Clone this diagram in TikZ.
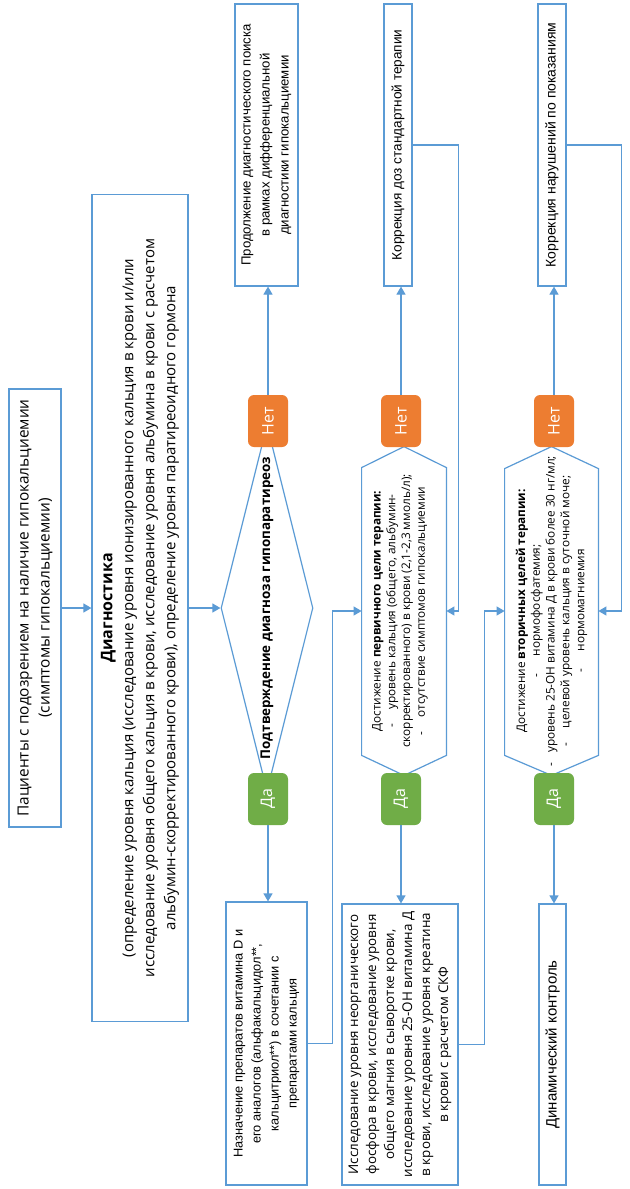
\documentclass[tikz,border=0pt]{standalone}
\usepackage{fontspec}
\setmainfont{Open Sans}
\newfontfamily\arialfont{Liberation Sans}
\usetikzlibrary{calc,arrows.meta,shapes.geometric}
\definecolor{boxblue}{HTML}{5B9BD5}
\definecolor{noorange}{HTML}{ED7D31}
\definecolor{yesgreen}{HTML}{70AD47}
\tikzset{
>={Triangle[width=4.5pt,length=4pt]},
  box/.style={
    rectangle,
    draw=boxblue, line width=0.6pt,
    rotate=90,
    align=center,
    inner sep=2pt,
    font=\fontsize{7.7}{10.5}\selectfont},
  abox/.style={box, font=\arialfont\fontsize{6.6}{9.5}\selectfont},
  line/.style={draw=boxblue, line width=0.6pt},
  arrow/.style={line, ->},
  answer/.style={
    rectangle,
    rounded corners=3pt,
    rotate=90,
    text=white,
    minimum width=26pt, minimum height=20pt,
    inner sep=0pt,
    font=\fontsize{8}{9}\selectfont},
  nobox/.style={answer, fill=noorange},
  yesbox/.style={answer, fill=yesgreen},
  hexholder/.style={minimum height=164pt, inner sep=0pt},
  goaltext/.style={rotate=90, align=center, inner sep=0pt,
    font=\fontsize{5.9}{7.4}\selectfont},
}
\begin{document}
\begin{tikzpicture}[x=0.5pt, y=-0.5pt]
  \useasboundingbox[fill=white] (0,0) rectangle (630,1189);

  % start and diagnostics
  \node[box, minimum width=219pt, minimum height=26pt] (patients) at (35,608)
    {Пациенты с подозрением на наличие гипокальциемии\\(симптомы гипокальциемии)};
  \node[box, font=\fontsize{7.5}{10.5}\selectfont, minimum width=413.5pt, minimum height=48pt] (diagn) at (140,608)
    {{\bfseries\fontsize{8}{10.5}\selectfont Диагностика}\\
     (определение уровня кальция (исследование уровня ионизированного кальция в крови и/или\\
     исследование уровня общего кальция в крови, исследование уровня альбумина в крови с расчетом\\
     альбумин-скорректированного крови), определение уровня паратиреоидного гормона};

  % confirmation of the diagnosis
  \node[diamond, draw=boxblue, line width=0.6pt, inner sep=0pt,
    minimum width=46pt, minimum height=183pt] (confirm) at (267,608) {};
  \node[rotate=90, font=\bfseries\fontsize{6.7}{8}\selectfont] (confirmlbl) at (confirm.center)
    {Подтверждение диагноза гипопаратиреоз};
  \node[nobox] (no1) at (268,421) {Нет};
  \node[yesbox] (yes1) at (268,799) {Да};
  \node[abox, minimum width=141pt, minimum height=31.5pt] (search) at (266.5,145)
    {Продолжение диагностического поиска\\в рамках дифференциальной\\диагностики гипокальциемии};
  \node[abox, font=\arialfont\fontsize{6.4}{9}\selectfont, minimum width=141.5pt, minimum height=40.5pt] (assign) at (266.5,1043.5)
    {Назначение препаратов витамина D и\\его аналогов (альфакальцидол**,\\кальцитриол**) в сочетании с\\препаратами кальция};

  % primary goal
  \node[hexholder, minimum width=42pt] (goal1) at (404,611) {};
  \draw[line] ($(goal1.north west)+(0,21)$) -- (goal1.north) -- ($(goal1.north east)+(0,21)$)
    -- ($(goal1.south east)+(0,-20)$) -- (goal1.south) -- ($(goal1.south west)+(0,-20)$) -- cycle;
  \node[goaltext] (goal1lbl) at ($(goal1.center)+(-4,0)$)
    {Достижение \textbf{первичного цели терапии:}\\
     -\hspace{1.2em}уровень кальция (общего, альбумин-\\
     скорректированного) в крови (2,1-2,3 ммоль/л);\\
     -\hspace{1.2em}отсутствие симптомов гипокальциемии};
  \node[nobox] (no2) at (401,421) {Нет};
  \node[yesbox] (yes2) at (401,799) {Да};
  \node[abox, font=\arialfont\fontsize{6.8}{9}\selectfont, minimum width=141pt, minimum height=14pt] (dose) at (398,145)
    {Коррекция доз стандартной терапии};
  \node[box, font=\fontsize{6.7}{9}\selectfont, minimum width=140.5pt, minimum height=58pt] (exam) at (400,1044.5)
    {Исследование уровня неорганического\\фосфора в крови, исследование уровня\\общего магния в сыворотке крови,\\
     исследование уровня 25-ОН витамина Д\\в крови, исследование уровня креатина\\в крови с расчетом СКФ};

  % secondary goals
  \node[hexholder, minimum width=46.5pt] (goal2) at (551.5,611) {};
  \draw[line] ($(goal2.north west)+(0,22)$) -- (goal2.north) -- ($(goal2.north east)+(0,22)$)
    -- ($(goal2.south east)+(0,-20)$) -- (goal2.south) -- ($(goal2.south west)+(0,-20)$) -- cycle;
  \node[goaltext] (goal2lbl) at (goal2.center)
    {Достижение \textbf{вторичных целей терапии:}\\
     -\hspace{1.5em}нормофосфатемия;\\
     -\hspace{0.8em}уровень 25-ОН витамина Д в крови более 30 нг/мл;\\
     -\hspace{1.2em}целевой уровень кальция в суточной моче;\\
     -\hspace{1.5em}нормомагниемия};
  \node[nobox] (no3) at (554,421) {Нет};
  \node[yesbox] (yes3) at (554,799) {Да};
  \node[abox, font=\arialfont\fontsize{7}{9}\selectfont, minimum width=141pt, minimum height=14pt] (fix) at (552,145)
    {Коррекция нарушений по показаниям};
  \node[abox, font=\arialfont\fontsize{7.5}{9}\selectfont, minimum width=140.5pt, minimum height=13.5pt] (control) at (552.5,1044.5)
    {Динамический контроль};

  % bends of the feedback lines
  \coordinate (c1) at ($(goal1.west)+(-29,0)$);
  \coordinate (c2) at ($(goal1.east)+(12,0)$);
  \coordinate (c3) at ($(goal2.west)+(-20,0)$);
  \coordinate (c4) at ($(goal2.east)+(23,0)$);

  % connectors
  \draw[arrow] (patients.south) -- (diagn.north);
  \draw[arrow] (diagn.south) -- (confirm.west);
  \draw[arrow] (no1.east) -- (no1.east |- search.west);
  \draw[arrow] (yes1.west) -- (yes1.west |- assign.east);
  \draw[arrow] (assign.south) -| (c1) -- (goal1.west);
  \draw[arrow] (dose.south) -| (c2) -- (goal1.east);
  \draw[arrow] (no2.east) -- (no2.east |- dose.west);
  \draw[arrow] (yes2.west) -- (yes2.west |- exam.east);
  \draw[arrow] (exam.south) -| (c3) -- (goal2.west);
  \draw[arrow] (fix.south) -| (c4) -- (goal2.east);
  \draw[arrow] (no3.east) -- (no3.east |- fix.west);
  \draw[arrow] (yes3.west) -- (yes3.west |- control.east);
\end{tikzpicture}
\end{document}
